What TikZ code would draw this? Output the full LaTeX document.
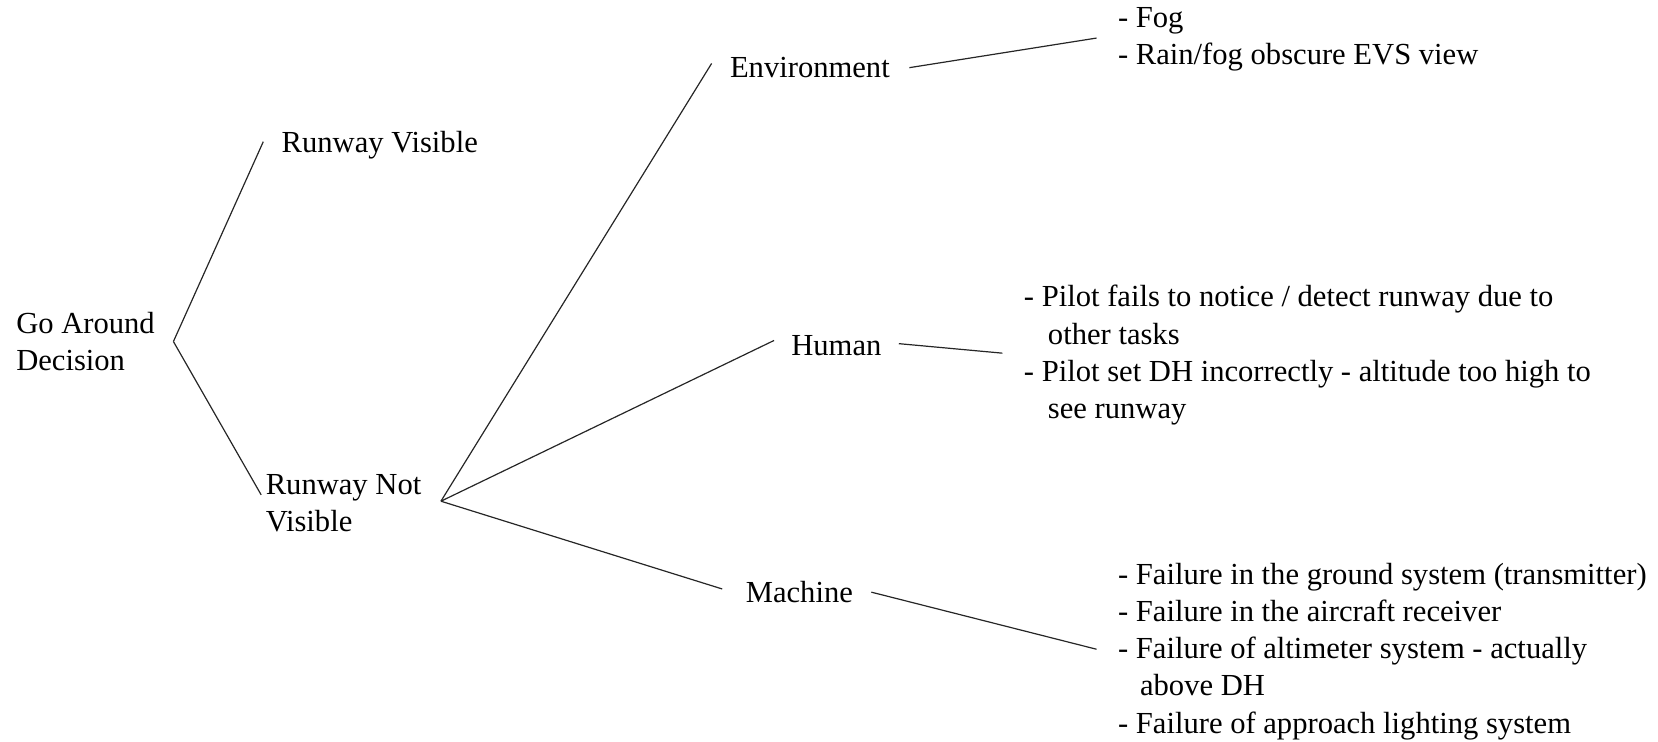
\documentclass[tikz,border=0pt]{standalone}
\usepackage{fontspec}
\setmainfont{Liberation Serif}
\begin{document}
\begin{tikzpicture}
  [x=0.5287pt,y=-0.5287pt,
   every node/.style={anchor=west,align=left,inner sep=0pt,
     font=\fontsize{15.3}{18.6}\selectfont}]
\useasboundingbox (0,0) rectangle (1568,701.7);
\node (god) at (15,323) {Go Around\\Decision};
  \node (rv) at (266,137) {Runway Visible};
  \node (rnv) at (251,476) {Runway Not\\Visible};
  \node (env) at (690,64) {Environment};
  \node (hum) at (748,327) {Human};
  \node (mac) at (705,560) {Machine};
  \node (fog) at (1057,37) {- Fog\\- Rain/fog obscure EVS view};
  \node (pil) at (968,336) {- Pilot fails to notice / detect runway due to\\
    \hspace*{12pt}other tasks\\
    - Pilot set DH incorrectly - altitude too high to\\
    \hspace*{12pt}see runway};
  \node (fail) at (1057,616) {- Failure in the ground system (transmitter)\\
    - Failure in the aircraft receiver\\
    - Failure of altimeter system - actually\\
    \hspace*{11pt}above DH\\
    - Failure of approach lighting system};

  % branch points
  \coordinate (god-r) at (164,323);
  \coordinate (rv-l) at (249,134);
  \coordinate (rnv-l) at (247,468);
  \coordinate (rnv-r) at (417,474);
  \coordinate (env-l) at (673,60);
  \coordinate (env-r) at (860,64);
  \coordinate (hum-l) at (732,322);
  \coordinate (hum-r) at (850,325);
  \coordinate (mac-l) at (683,557);
  \coordinate (mac-r) at (824,560);
  \coordinate (fog-l) at (1037,36);
  \coordinate (pil-l) at (948,334);
  \coordinate (fail-l) at (1037,614);

 \foreach \from/\to in {god-r/rv-l,god-r/rnv-l,rnv-r/env-l,rnv-r/hum-l,rnv-r/mac-l,
   env-r/fog-l,hum-r/pil-l,mac-r/fail-l}
    \draw[black!85,line width=0.6pt] (\from) -- (\to);
\end{tikzpicture}
\end{document}
